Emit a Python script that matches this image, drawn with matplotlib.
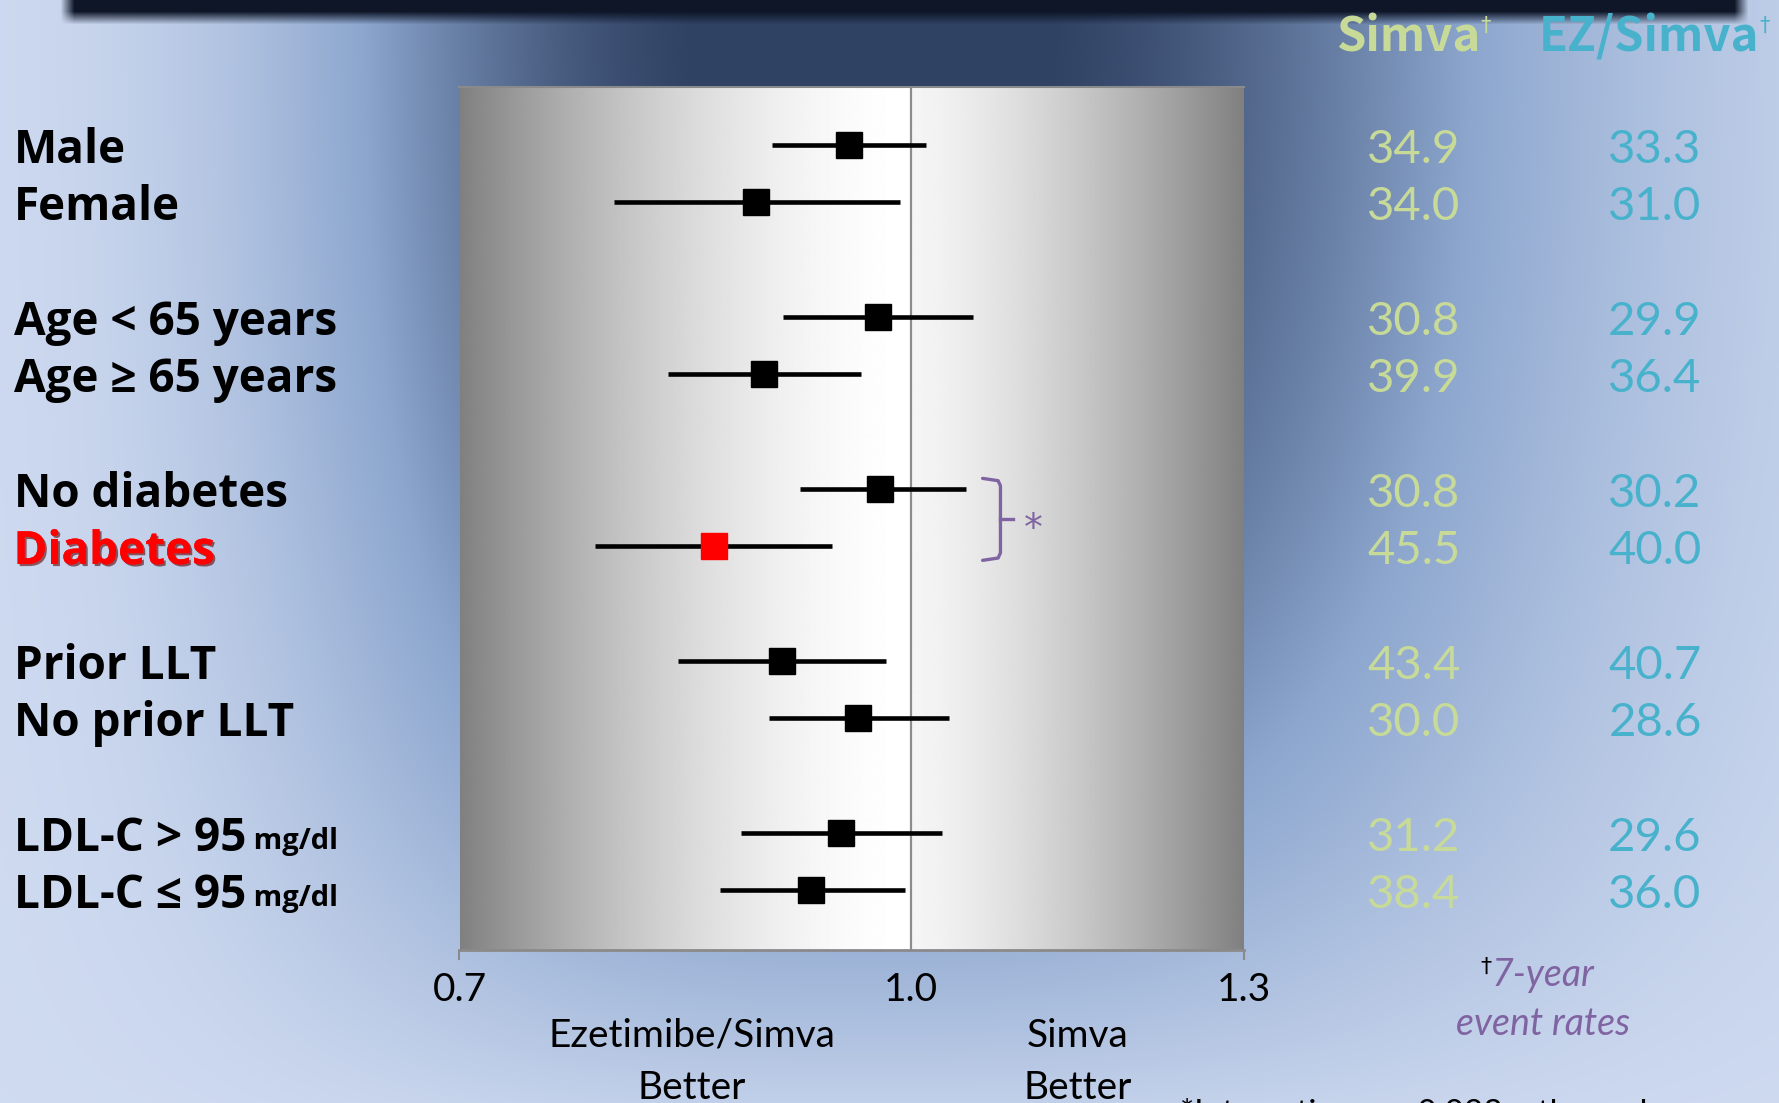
import numpy as np
import matplotlib.pyplot as plt
import matplotlib.patheffects as pe
from matplotlib.transforms import blended_transform_factory, ScaledTranslation

# subgroup rows (two per group)
labels = ["Male", "Female",
          "Age < 65 years", "Age \u2265 65 years",
          "No diabetes", "Diabetes",
          "Prior LLT", "No prior LLT",
          "LDL-C > 95", "LDL-C \u2264 95"]
hr = [0.952, 0.885, 0.974, 0.890, 0.976, 0.856, 0.903, 0.959, 0.946, 0.924]
ci_low = [0.896, 0.791, 0.904, 0.825, 0.916, 0.779, 0.832, 0.894, 0.874, 0.860]
ci_high = [1.012, 0.991, 1.050, 0.961, 1.044, 0.939, 0.980, 1.030, 1.025, 0.995]
simva_rate = [34.9, 34.0, 30.8, 39.9, 30.8, 45.5, 43.4, 30.0, 31.2, 38.4]
ez_rate = [33.3, 31.0, 29.9, 36.4, 30.2, 40.0, 40.7, 28.6, 29.6, 36.0]
highlight = "Diabetes"

xticks = [0.7, 1.0, 1.3]

# blank line between every pair of rows
ypos = [i + i // 2 for i in range(len(labels))]

W, H = 1779, 1103
fig = plt.figure(figsize=(W / 100, H / 100), dpi=100)

# slide background: dark blue in the top middle fading to pale blue
yy, xx = np.mgrid[0:H, 0:W].astype(np.float32)
xf, yf = xx / W, yy / H
hx = np.where(xf < 0.5,
              np.exp(-(np.abs(xf - 0.5) / 0.322) ** 3),
              np.exp(-(np.abs(xf - 0.5) / 0.365) ** 2.3))
vy = np.clip(1 - 0.9 * yf ** 2.2, 0, 1)
d = np.clip(hx * vy + 0.04, 0, 1)
stops = [0.0, 0.5, 1.0]
stop_rgb = np.array([[214, 224, 244], [140, 166, 206], [48, 66, 100]]) / 255
bg = np.stack([np.interp(d, stops, stop_rgb[:, k]) for k in range(3)], axis=-1)
band = (np.clip((24 - yy) / 13, 0, 1) * np.clip((xx - 60) / 14, 0, 1)
        * np.clip((1748 - xx) / 14, 0, 1))[..., None]
bar = np.array([14, 22, 40]) / 255
bg = bg * (1 - band) + bar * band

bg_ax = fig.add_axes([0, 0, 1, 1], zorder=-10)
bg_ax.imshow(bg, aspect="auto", extent=(0, 1, 0, 1), interpolation="bilinear")
bg_ax.axis("off")

rect = [459.5 / W, 1 - 950 / H, 784 / W, 863 / H]

# grey panel, white around the line of no effect
panel = fig.add_axes(rect, zorder=0)
t = np.linspace(0, 1, 800)
c = 0.576
g = np.where(t < c,
             255 - 127 * ((c - t) / c) ** 1.7,
             245 - 117 * ((t - c) / (1 - c)) ** 1.4) / 255
panel.imshow(np.tile(g, (2, 1)), cmap="gray", vmin=0, vmax=1,
             aspect="auto", extent=(0, 1, 0, 1), interpolation="bilinear")
panel.axis("off")

ax = fig.add_axes(rect, zorder=1)
ax.set_facecolor("none")
ax.set_xscale("log")
ax.set_xlim(0.7, 1.3)
ax.set_ylim(14.05, -1.01)
ax.axvline(1.0, color="#8c8c8c", lw=1.6, zorder=1)

colors = ["red" if lab == highlight else "black" for lab in labels]
ax.hlines(ypos, ci_low, ci_high, color="black", lw=3.3, zorder=2)
for x, y, col in zip(hr, ypos, colors):
    ax.plot(x, y, marker="s", ms=18.5, color=col, mec=col, ls="none", zorder=3)

for side in ("left", "right"):
    ax.spines[side].set_visible(False)
ax.spines["top"].set_color("#8a8a8a")
ax.spines["top"].set_linewidth(1.5)
ax.spines["bottom"].set_color("#8a8a8a")
ax.spines["bottom"].set_linewidth(2)
ax.set_yticks([])
ax.set_xticks(xticks, [f"{v:.1f}" for v in xticks])
ax.xaxis.set_minor_locator(plt.NullLocator())
ax.tick_params(axis="x", length=7, width=1.5, color="#8a8a8a", pad=9,
               labelsize=28, labelcolor="black")
ax.xaxis.get_major_ticks()[1].tick1line.set_visible(False)
for lab in ax.get_xticklabels():
    lab.set_fontfamily("Lato")

# row labels on the left, baseline a little below the row centre
bold_font = ["Open Sans", "DejaVu Sans"]
head_font = ["Noto Sans CJK KR", "DejaVu Sans"]
row_tr = blended_transform_factory(fig.transFigure, ax.transData)
base_tr = row_tr + ScaledTranslation(0, -0.18, fig.dpi_scale_trans)
for lab, y, col in zip(labels, ypos, colors):
    txt = ax.text(13.5 / W, y, lab, transform=base_tr, ha="left",
                  va="baseline", fontsize=33, fontweight="bold",
                  color=col, family=bold_font)
    if lab == highlight:
        txt.set_path_effects([pe.withSimplePatchShadow(offset=(1.5, -1.5),
                                                       shadow_rgbFace="#5a0000",
                                                       alpha=0.6),
                              pe.Normal()])
    if lab.startswith("LDL"):
        ax.annotate(" mg/dl", xy=(1, 0.12), xycoords=txt, ha="left",
                    va="bottom", fontsize=21, fontweight="bold",
                    family=bold_font)

# 7-year event rates
simva_col = "#c8da98"
ez_col = "#48b2cc"
for y, s, e in zip(ypos, simva_rate, ez_rate):
    ax.text(1414 / W, y, f"{s:.1f}", transform=base_tr, ha="center",
            va="baseline", fontsize=34, color=simva_col, family="Lato")
    ax.text(1655 / W, y, f"{e:.1f}", transform=base_tr, ha="center",
            va="baseline", fontsize=34, color=ez_col, family="Lato")

for x, name, col in ((1408, "Simva", simva_col), (1649, "EZ/Simva", ez_col)):
    h = fig.text(x / W, 1 - 51 / H, name, ha="center", va="baseline",
                 fontsize=34, fontweight="bold", color=col, family=head_font)
    ax.annotate("\u2020", xy=(1, 0.95), xycoords=h, ha="left", va="top",
                fontsize=15, color=col, family="DejaVu Sans")

# interaction bracket between the diabetes rows
purple = "#8064a2"
ax.plot([1.058, 1.071, 1.073, 1.073, 1.071, 1.058],
        [5.82, 5.86, 5.95, 7.12, 7.21, 7.25],
        color=purple, lw=2.4, solid_capstyle="round", zorder=2)
ax.plot([1.073, 1.084], [6.53, 6.53], color=purple, lw=2.4, zorder=2)
ax.text(1.101, 6.72, "*", ha="center", va="center", fontsize=27,
        color=purple, family="DejaVu Sans")

# direction labels under the axis
for x, words in ((692, ("Ezetimibe/Simva", "Better")), (1078, ("Simva", "Better"))):
    fig.text(x / W, 1 - 1036 / H, words[0], ha="center", va="center",
             fontsize=28, family="Lato")
    fig.text(x / W, 1 - 1088 / H, words[1], ha="center", va="center",
             fontsize=28, family="Lato")

note = fig.text(1543 / W, 1 - 975 / H, "7-year", ha="center", va="center",
                fontsize=27, style="italic", color=purple, family="Lato")
ax.annotate("\u2020", xy=(0, 1), xycoords=note, ha="right", va="top",
            fontsize=16, color="black", family="DejaVu Sans")
fig.text(1543 / W, 1 - 1024 / H, "event rates", ha="center", va="center",
         fontsize=27, style="italic", color=purple, family="Lato")

fig.text(1180 / W, 5 / H, "*Interaction p = 0.023, other subgroups p > 0.05",
         ha="left", va="top", fontsize=24, family="Lato")

fig.savefig("out.png", dpi=100)
